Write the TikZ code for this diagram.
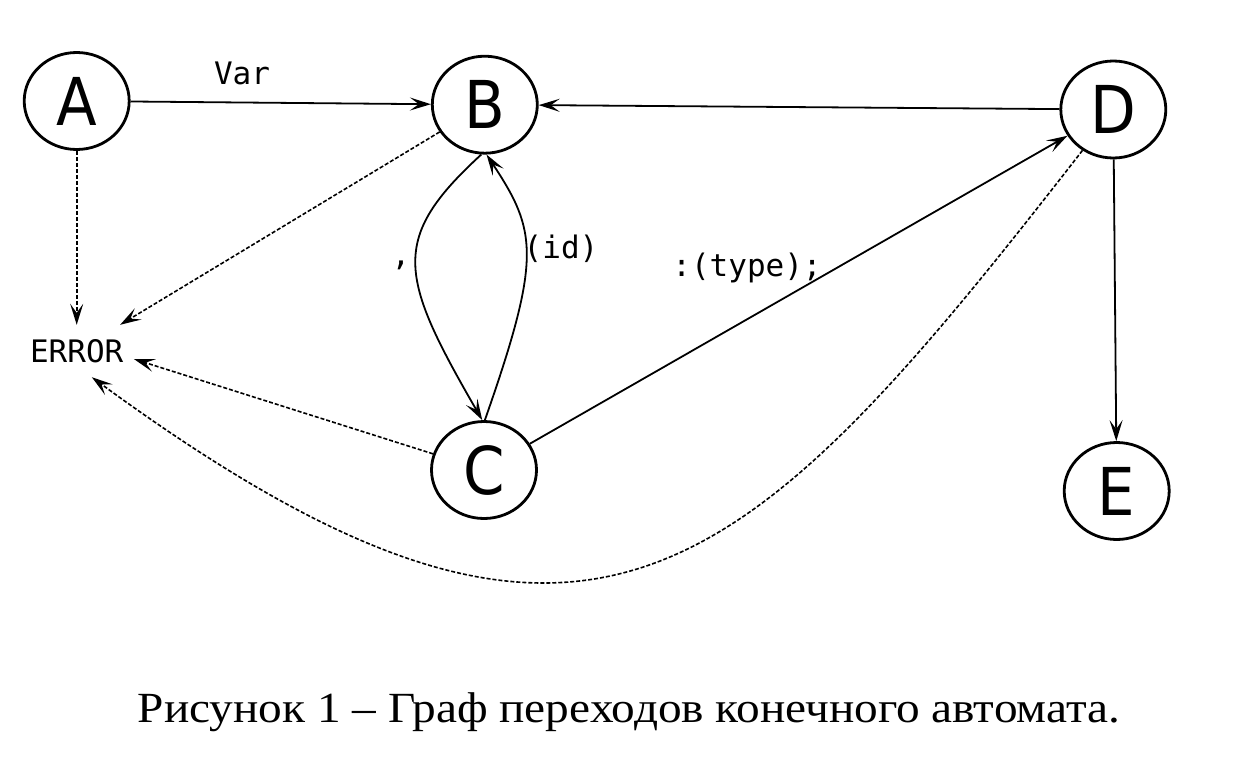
\documentclass[tikz,border=0pt]{standalone}
\usepackage{fontspec}
\setmainfont{Liberation Serif}
\newfontfamily\statefont[FakeStretch=0.9]{DejaVu Sans}
\newfontfamily\lblfont{DejaVu Sans Mono}
\newfontfamily\capfont[FakeStretch=1.10]{Liberation Serif}
\usetikzlibrary{arrows.meta,shapes.geometric}
\begin{document}
\begin{tikzpicture}[x=1pt,y=-1pt,
  state/.style={ellipse, draw, line width=2.8pt, minimum width=105pt, minimum height=97pt,
    inner sep=0pt, font=\statefont\fontsize{66}{66}\selectfont},
  lbl/.style={font=\lblfont\fontsize{31}{31}\selectfont, inner sep=0pt, anchor=base},
  tip/.style={-{Stealth[length=21pt,width=13pt,inset=9pt]}},
  tr/.style={tip, line width=1.8pt},
  err/.style={tip, line width=1.6pt, dash pattern=on 4pt off 2pt}]
\useasboundingbox (0,0) rectangle (1233,765);
% states
\node[state] (A) at (76.7,101) {A};
\node[state] (B) at (484.8,104.7) {B};
\node[state] (C) at (484,470) {C};
\node[state] (D) at (1113.3,109.5) {D};
\node[state] (E) at (1116.7,491) {E};
\node[font=\lblfont\fontsize{31}{31}\selectfont, minimum width=114pt, minimum height=52pt,
  inner sep=0pt] (ERR) at (76.7,351) {ERROR};
% transitions
\draw[tr] (A) -- (B);
\draw[tr] (D) -- (B);
\draw[tr] (B.266) .. controls (389,239) and (399,276) .. (C.92);
\draw[tr] (C.89) .. controls (542,257) and (537,231) .. (B.272);
\draw[tr] (C) -- (D);
\draw[tr] (D) -- (E);
% errors
\draw[err] (A) -- (ERR);
\draw[err] (B) -- (ERR);
\draw[err] (C) -- (ERR.-8);
\draw[err] (D.233) .. controls (739,592) and (588,740) .. (ERR.-60);
% labels
\node[lbl] (lvar) at (242,85) {Var};
\node[lbl] (lcomma) at (401,265) {,};
\node[lbl] (lid) at (561,258) {(id)};
\node[lbl] (ltype) at (747,276) {:(type);};
% caption
\node[font=\capfont\fontsize{43}{43}\selectfont, anchor=base, inner sep=0pt] (cap) at (629,722)
  {Рисунок 1 – Граф переходов конечного автомата.};
\end{tikzpicture}
\end{document}
